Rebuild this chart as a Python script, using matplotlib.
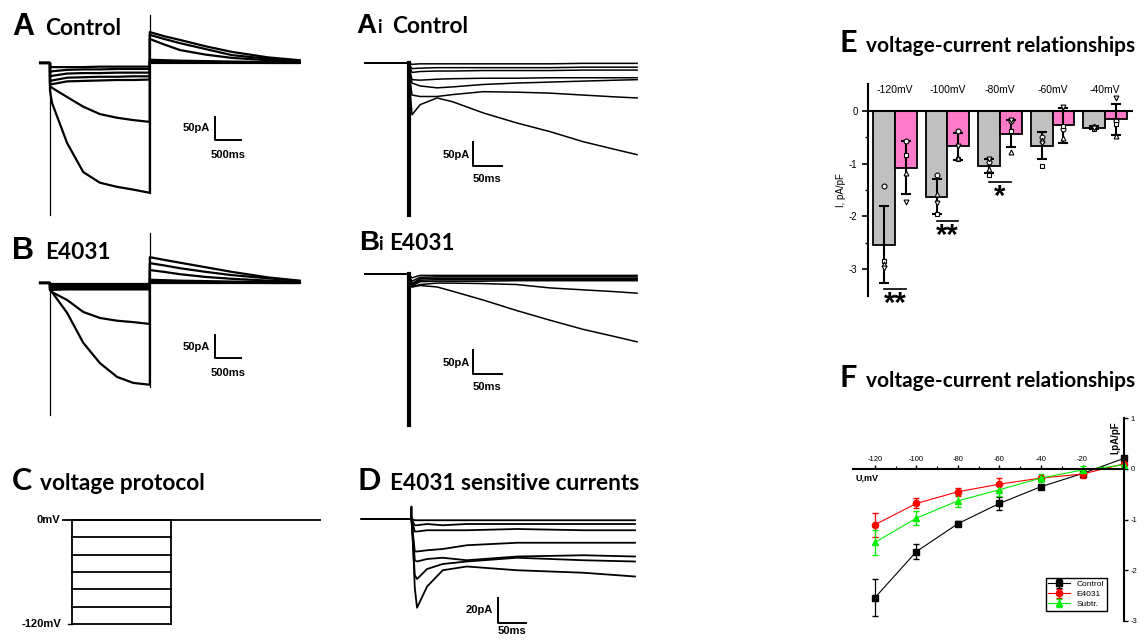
import numpy as np
import matplotlib
matplotlib.use('Agg')
import matplotlib.pyplot as plt

plt.rcParams['font.family'] = ['Liberation Sans', 'DejaVu Sans']
plt.rcParams['axes.unicode_minus'] = False

W, H = 1144, 641

# ---- voltage steps (mV) ----
steps = [-120, -100, -80, -60, -40, -20, 0]

# ---- A / B : full sweeps, time in ms, current in pA ----
sweep_t = [-190, 0, 0, 40, 330, 640, 960, 1290, 1600, 1920, 1920, 2200, 2500, 3000, 3500, 4200, 4800]
ctrl_sweeps = [
    [0, 0, -60, -87, -174, -237, -260, -269, -275, -282, 67, 58, 50, 36, 24, 12, 6],
    [0, 0, -50, -54, -74, -95, -111, -119, -124, -128, 61, 52, 43, 30, 17, 9, 5],
    [0, 0, -45, -46, -40, -39, -38, -37, -37, -36, 52, 40, 28, 18, 11, 6, 3],
    [0, 0, -40, -38, -32, -31, -30, -30, -29, -29, 7, 6, 5, 4, 3, 2, 1],
    [0, 0, -30, -28, -23, -22, -22, -21, -21, -21, 3, 3, 2, 2, 1, 1, 1],
    [0, 0, -20, -18, -15, -14, -14, -13, -13, -13, 2, 1, 1, 1, 1, 0, 0],
    [0, 0, -8, -9, -9, -9, -8, -8, -8, -8, 0, 0, 0, 0, 0, 0, 0],
]
e4031_sweeps = [
    [0, 0, -15, -20, -65, -130, -174, -204, -217, -221, 56, 50, 44, 34, 24, 12, 5],
    [0, 0, -15, -20, -37, -63, -76, -82, -85, -89, 43, 38, 32, 24, 17, 10, 4],
    [0, 0, -14, -15, -14, -14, -14, -14, -14, -14, 28, 24, 19, 13, 9, 5, 2],
    [0, 0, -12, -12, -11, -11, -11, -11, -11, -11, 7, 6, 5, 4, 3, 2, 1],
    [0, 0, -10, -9, -8, -8, -8, -8, -8, -8, 3, 3, 2, 2, 1, 1, 1],
    [0, 0, -7, -6, -5, -5, -5, -5, -5, -5, 2, 1, 1, 1, 1, 0, 0],
    [0, 0, -3, -3, -3, -3, -3, -3, -3, -3, 0, 0, 0, 0, 0, 0, 0],
]
step_end = 1920
ctrl_artifact = [(0, 0, -330), (step_end, 104, -282)]
e4031_artifact = [(0, 0, -286), (step_end, 108, -226)]

# ---- Ai / Bi : first 400 ms of the step ----
zoom_t = [-74, 0, 7, 21, 50, 77, 129, 187, 244, 301, 359, 394]
ctrl_zoom = [
    [0, 0, -108, -87, -73, -81, -104, -125, -143, -164, -181, -191],
    [0, 0, -67, -70, -70, -66, -60, -61, -63, -67, -71, -73],
    [0, 0, -42, -48, -52, -50, -45, -42, -40, -38, -36, -35],
    [0, 0, -35, -36, -34, -33, -32, -32, -31, -31, -31, -31],
    [0, 0, -20, -18, -17, -17, -16, -16, -16, -15, -15, -15],
    [0, 0, -12, -11, -10, -10, -10, -10, -10, -9, -9, -9],
    [0, 0, -3, -2, -2, -2, -2, -2, -2, -1, -1, -1],
]
e4031_zoom = [
    [0, 0, -27, -24, -27, -36, -54, -76, -96, -115, -131, -141],
    [0, 0, -27, -22, -19, -19, -20, -22, -29, -33, -37, -40],
    [0, 0, -25, -16, -15, -15, -15, -14, -14, -14, -14, -14],
    [0, 0, -22, -13, -12, -12, -12, -12, -12, -12, -12, -12],
    [0, 0, -20, -10, -9, -9, -9, -9, -9, -9, -9, -9],
    [0, 0, -15, -7, -6, -6, -6, -6, -6, -6, -6, -6],
    [0, 0, -8, -3, -3, -3, -3, -3, -3, -3, -3, -3],
]

# ---- D : E4031 sensitive currents ----
sens_t = [-88, 0, 1, 7, 11, 29, 57, 100, 190, 309, 401]
sens = [
    [0, 0, 10, -55, -71, -54, -41, -38, -41, -43, -46],
    [0, 0, 0, -45, -48, -40, -36, -34, -31, -33, -34],
    [0, 0, 0, -33, -34, -32, -31, -33, -30, -29, -30],
    [0, 0, 0, -26, -26, -25, -24, -21, -19, -19, -19],
    [0, 0, 0, -10, -10, -9, -9, -9, -8, -9, -9],
    [0, 0, 0, -5, -5, -4, -5, -4, -4, -4, -4],
    [0, 0, 0, -1, -1, -1, -1, -1, -1, -1, -1],
]

# ---- C : protocol ----
hold_t = [-173, 4770]
prot_dur = 1900

# ---- E : bars ----
E_labels = ['-120mV', '-100mV', '-80mV', '-60mV', '-40mV']
ctrl_mean = [-2.54, -1.63, -1.05, -0.66, -0.32]
ctrl_sem = [0.73, 0.33, 0.13, 0.26, 0.03]
e4031_mean = [-1.08, -0.67, -0.43, -0.27, -0.16]
e4031_sem = [0.50, 0.26, 0.26, 0.33, 0.30]
ctrl_pts = {'o': [-1.43, -1.21, -0.97, -0.50, -0.31],
            's': [-2.85, -1.96, -1.22, -1.05, -0.34],
            '^': [-2.90, -1.57, -1.10, -0.55, -0.28],
            'v': [-2.97, -1.75, -0.91, -0.60, -0.33]}
e4031_pts = {'o': [-0.57, -0.38, -0.20, -0.35, -0.20],
             's': [-0.83, -0.92, -0.38, -0.28, -0.25],
             '^': [-1.18, -0.90, -0.77, -0.52, -0.48],
             'v': [-1.72, -0.66, -0.18, 0.08, 0.24]}
sig_groups = [0, 1, 2]
sig_marks = ['**', '**', '*']
sig_y = [-3.38, -2.09, -1.35]

# ---- F : I-V ----
iv_v = [-120, -100, -80, -60, -40, -20, 0]
iv_ctrl = [-2.54, -1.63, -1.08, -0.68, -0.35, -0.09, 0.21]
iv_ctrl_err = [0.37, 0.15, 0.05, 0.13, 0.03, 0.04, 0.05]
iv_e4031 = [-1.10, -0.68, -0.45, -0.30, -0.18, -0.10, 0.10]
iv_e4031_err = [0.24, 0.10, 0.08, 0.13, 0.03, 0.07, 0.03]
iv_sub = [-1.45, -0.97, -0.63, -0.41, -0.18, -0.02, 0.08]
iv_sub_err = [0.25, 0.14, 0.12, 0.12, 0.08, 0.07, 0.03]

fig = plt.figure(figsize=(W / 100, H / 100), dpi=100)


def px_axes(x0, y0, x1, y1):
    return fig.add_axes([x0 / W, 1 - y1 / H, (x1 - x0) / W, (y1 - y0) / H])


def title(x, y, letter, text, sub=None, lfont='Lato', tsize=16.3, lsize=22):
    fig.text(x / W, 1 - y / H, letter, fontsize=lsize, weight='bold', family=lfont)
    if sub:
        fig.text(sub[0] / W, 1 - y / H, 'i', fontsize=13, weight='bold', family='Lato')
    fig.text(text[0] / W, 1 - y / H, text[1], fontsize=tsize, weight='bold', family='Lato')


def scale_bar(ax, t0, i0, dt, di, ilab, tlab, ipos, tpos):
    ax.plot([t0, t0, t0 + dt], [i0 + di, i0, i0], color='black', lw=1.4)
    ax.text(ipos[0], ipos[1], ilab, ha='right', va='center', fontsize=8, weight='bold')
    ax.text(tpos[0], tpos[1], tlab, ha='center', va='center', fontsize=8, weight='bold')


def trace_ax(box, xlim, ylim):
    ax = px_axes(*box)
    ax.set_xlim(*xlim)
    ax.set_ylim(*ylim)
    ax.axis('off')
    return ax


# A
axA = trace_ax((35, 10, 310, 220), (-288, 5000), (-341, 115))
for tr in ctrl_sweeps:
    axA.plot(sweep_t, tr, color='black', lw=1.6)
for t, a, b in ctrl_artifact:
    axA.plot([t, t], [a, b], color='black', lw=0.9)
scale_bar(axA, 3173, -167, 500, 50, '50pA', '500ms', (3077, -141), (3423, -200))
title(12, 35, 'A', (45, 'Control'), lfont='Liberation Sans')

# B
axB = trace_ax((35, 230, 310, 440), (-288, 5000), (-341, 115))
for tr in e4031_sweeps:
    axB.plot(sweep_t, tr, color='black', lw=1.6)
for t, a, b in e4031_artifact:
    axB.plot([t, t], [a, b], color='black', lw=0.9)
scale_bar(axB, 3173, -163, 500, 50, '50pA', '500ms', (3077, -139), (3423, -195))
title(12, 259, 'B', (45, 'E4031'), lfont='Liberation Sans')

# Ai
axAi = trace_ax((362, 10, 640, 220), (-79, 399), (-327, 110))
for tr in ctrl_zoom:
    axAi.plot(zoom_t, tr, color='black', lw=1.1)
axAi.plot([1, 1], [0, -316], color='black', lw=3)
scale_bar(axAi, 112, -214, 50, 50, '50pA', '50ms', (107, -191), (136, -241))
title(356, 33, 'A', (392, 'Control'), sub=(377,), lfont='Liberation Sans', lsize=20)

# Bi
axBi = trace_ax((362, 220, 640, 430), (-79, 399), (-324, 112))
for tr in e4031_zoom:
    axBi.plot(zoom_t, tr, color='black', lw=1.1)
axBi.plot([1, 1], [0, -314], color='black', lw=3)
scale_bar(axBi, 112, -208, 50, 50, '50pA', '50ms', (107, -185), (136, -235))
title(359, 250, 'B', (389, 'E4031'), sub=(378,), lfont='Liberation Sans', lsize=20)

# C
axC = trace_ax((60, 505, 325, 635), (-231, 4865), (-132.7, 17.3))
axC.plot(hold_t, [0, 0], color='black', lw=1.3)
for v in steps:
    axC.plot([0, prot_dur], [v, v], color='black', lw=1.3)
axC.plot([0, 0], [0, steps[0]], color='black', lw=1.3)
axC.plot([prot_dur, prot_dur], [0, steps[0]], color='black', lw=1.3)
axC.plot([-77, 0], [steps[0], steps[0]], color='black', lw=1.0)
axC.text(-231, 0, '0mV', ha='right', va='center', fontsize=8, weight='bold')
axC.text(-200, steps[0], '-120mV', ha='right', va='center', fontsize=8, weight='bold')
title(12, 490, 'C', (40, 'voltage protocol'))

# D
axD = trace_ax((355, 470, 640, 640), (-100, 410), (-96.8, 39.2))
for tr in sens:
    axD.plot(sens_t, tr, color='black', lw=1.3)
scale_bar(axD, 156, -83.2, 50, 20, '20pA', '50ms', (147, -73), (181, -90))
title(357, 490, 'D', (390, 'E4031 sensitive currents'))

# E
axE = px_axes(868, 84, 1132, 296)
x = np.arange(len(E_labels))
w = 0.41
ekw = dict(lw=1.5, capsize=3.5, capthick=1.5, ecolor='black')
axE.bar(x - w / 2, ctrl_mean, w, color='#c0c0c0', edgecolor='black', lw=1.3,
        yerr=ctrl_sem, error_kw=ekw, zorder=2)
axE.bar(x + w / 2, e4031_mean, w, color='#ff7ac8', edgecolor='black', lw=1.3,
        yerr=e4031_sem, error_kw=ekw, zorder=2)
for m in ctrl_pts:
    axE.plot(x - w / 2, ctrl_pts[m], m, mfc='white', mec='black', ms=3.5, mew=0.8, ls='none', zorder=4)
    axE.plot(x + w / 2, e4031_pts[m], m, mfc='white', mec='black', ms=3.5, mew=0.8, ls='none', zorder=4)
for g, s, y in zip(sig_groups, sig_marks, sig_y):
    axE.plot([g - w / 2, g + w / 2], [y, y], color='black', lw=1.2, clip_on=False)
    axE.text(g, y - 0.02, s, ha='center', va='top', fontsize=21, weight='bold')
for i, lab in enumerate(E_labels):
    axE.text(i, 0.40, lab, ha='center', va='center', fontsize=7.5)
axE.set_xlim(-0.514, 4.514)
axE.set_ylim(-3.51, 0.51)
axE.spines['top'].set_visible(False)
axE.spines['right'].set_visible(False)
axE.spines['bottom'].set_position(('data', 0))
axE.spines['bottom'].set_linewidth(1.5)
axE.spines['bottom'].set_zorder(3)
axE.spines['left'].set_linewidth(1.5)
axE.set_xticks([])
axE.set_yticks([0, -1, -2, -3])
axE.set_yticklabels(['0', '-1', '-2', '-3'])
axE.set_yticks([-0.5, -1.5, -2.5], minor=True)
axE.tick_params(axis='y', labelsize=7, width=1.2, length=4)
axE.tick_params(axis='y', which='minor', width=1.0, length=2.5)
axE.set_ylabel('I, pA/pF', fontsize=7, labelpad=2)
axE.patch.set_visible(False)
title(840, 52, 'E', (866, 'voltage-current relationships'), tsize=15)

# F
axF = px_axes(853, 410, 1135, 630)
axF.errorbar(iv_v, iv_ctrl, yerr=iv_ctrl_err, color='black', marker='s', ms=4.5, lw=0.8,
             capsize=2.5, elinewidth=0.9, label='Control')
axF.errorbar(iv_v, iv_e4031, yerr=iv_e4031_err, color='#ff0000', marker='o', ms=4.5, lw=0.8,
             capsize=2.5, elinewidth=0.9, label='E4031')
axF.errorbar(iv_v, iv_sub, yerr=iv_sub_err, color='#00ee00', marker='^', ms=4.5, lw=0.8,
             capsize=2.5, elinewidth=0.9, label='Subtr.')
axF.set_xlim(-130.6, 5.3)
axF.set_ylim(-3.18, 1.164)
axF.spines['left'].set_visible(False)
axF.spines['bottom'].set_visible(False)
axF.spines['right'].set_position(('data', 0))
axF.spines['right'].set_bounds(-3, 1)
axF.spines['top'].set_position(('data', 0))
axF.spines['top'].set_bounds(-130.6, 0)
for sp in ('right', 'top'):
    axF.spines[sp].set_linewidth(1.5)
axF.yaxis.tick_right()
axF.xaxis.tick_top()
axF.set_xticks([-120, -100, -80, -60, -40, -20])
axF.set_xticks([-110, -90, -70, -50, -30, -10], minor=True)
axF.set_yticks([-3, -2, -1, 0, 1])
axF.tick_params(axis='both', labelsize=5.5, width=1.0, length=3, pad=1.5)
axF.tick_params(which='minor', length=2, width=0.8)
axF.text(-4.3, 0.62, 'I,pA/pF', rotation=90, ha='center', va='center', fontsize=7, weight='bold')
axF.text(-129.6, -0.18, 'U,mV', ha='left', va='center', fontsize=6.5, weight='bold')
axF.legend(loc='upper left', bbox_to_anchor=(0.684, 0.236), fontsize=6, frameon=True,
           fancybox=False, edgecolor='black', framealpha=1, handlelength=2.6,
           borderpad=0.3, labelspacing=0.25, borderaxespad=0)
axF.patch.set_visible(False)
title(840, 387, 'F', (866, 'voltage-current relationships'), tsize=15)

fig.savefig('out.png', dpi=100)
